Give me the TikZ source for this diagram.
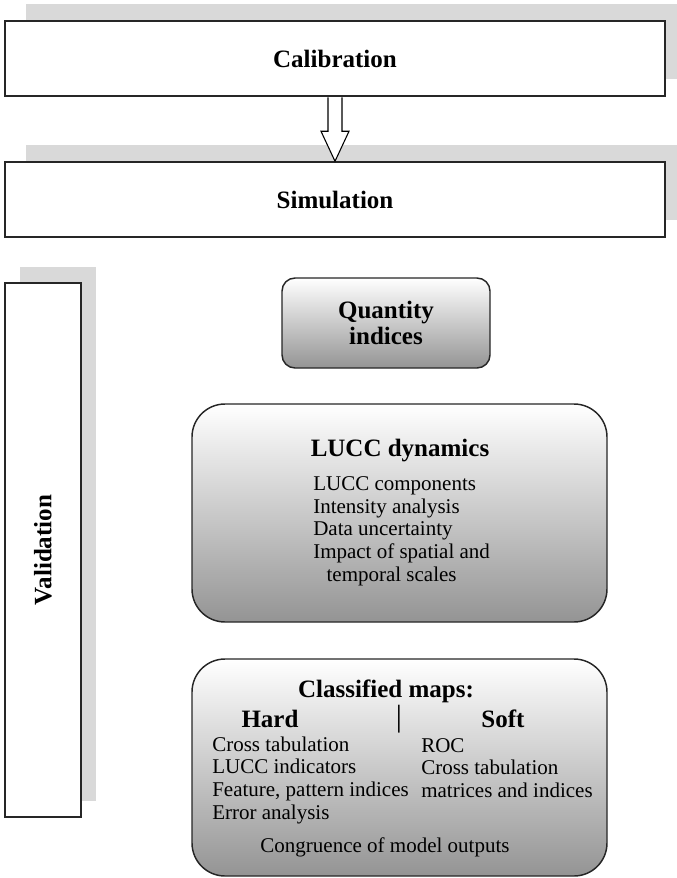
\documentclass[tikz,border=0pt]{standalone}
\usepackage{fontspec}
\setmainfont{Liberation Serif}
\usetikzlibrary{shadows}

\newcommand{\headfont}{\fontsize{18.75}{19.5}\selectfont\bfseries}
\newcommand{\itemfont}{\fontsize{15.75}{17}\selectfont}

\tikzset{
    stage/.style = {draw = black!85, line width = 1.1pt, fill = white,
                    minimum width = 495pt, minimum height = 56.25pt,
                    font = \headfont},
    stage shadow/.style = {drop shadow = {shadow xshift = 15.75pt,
                    shadow yshift = 12.75pt, fill = black!15, opacity = 1}},
    panel/.style = {draw = black!85, line width = 1.1pt,
                    top color = white, bottom color = black!42,
                    minimum width = 311.25pt},
    head/.style = {font = \headfont, inner sep = 0pt},
    list/.style = {font = \itemfont, anchor = west, inner sep = 0pt,
                   align = left}
}

\begin{document}
\begin{tikzpicture}[x = 0.75pt, y = -0.75pt]
            \useasboundingbox (0, 0) rectangle (677, 878);

            \node (calib) [stage, stage shadow] at (335, 58.5) {Calibration};
            \node (sim) [stage, stage shadow] at (335, 199.5) {Simulation};

            \draw [line width = 0.8pt, fill = white]
                  ([xshift = -5.25pt, yshift = -0.55pt] calib.south)
                  -- ([xshift = -5.25pt, yshift = 22.5pt] sim.north)
                  -- ([xshift = -10.5pt, yshift = 22.5pt] sim.north)
                  -- (sim.north)
                  -- ([xshift = 10.5pt, yshift = 22.5pt] sim.north)
                  -- ([xshift = 5.25pt, yshift = 22.5pt] sim.north)
                  -- ([xshift = 5.25pt, yshift = -0.55pt] calib.south); % Calibration -> Simulation

            \node (valid) [stage, minimum width = 57pt, minimum height = 400.5pt,
                  drop shadow = {shadow xshift = 11.25pt, shadow yshift = 12pt,
                  fill = black!15, opacity = 1}]
                  at (43, 550) {\rotatebox{90}{Validation}};

            % quantity
            \node (qty) [panel, rounded corners = 9.75pt, minimum width = 156pt,
                  minimum height = 67.5pt, font = \headfont, align = center]
                  at (386, 323) {Quantity\\indices};

            % LUCC dynamics
            \node (lucc) [panel, rounded corners = 24.75pt, minimum height = 163.5pt]
                  at (399.5, 513) {};
            \node (luccT) [head] at (400, 451) {LUCC dynamics};
            \node (luccL) [list] at (313, 531)
                  {LUCC components\\Intensity analysis\\Data uncertainty\\
                   Impact of spatial and\\\hspace{10pt}temporal scales};

            % classified maps
            \node (maps) [panel, rounded corners = 24.75pt, minimum height = 162.75pt]
                  at (399.5, 767.5) {};
            \node (mapsT) [head] at (386, 691) {Classified maps:};
            \node (hard) [head] at (270, 719) {Hard};
            \node (bar) [inner sep = 0pt, font = \fontsize{23}{23}\selectfont]
                  at (399, 719.5) {|};
            \node (soft) [head] at (503, 719) {Soft};
            \node (hardL) [list] at (212, 780)
                  {Cross tabulation\\LUCC indicators\\Feature, pattern indices\\Error analysis};
            \node (softL) [list] at (421, 768)
                  {ROC\\Cross tabulation\\matrices and indices};
            \node (congr) [font = \itemfont, inner sep = 0pt] at (385, 847)
                  {Congruence of model outputs};
        \end{tikzpicture}
\end{document}
